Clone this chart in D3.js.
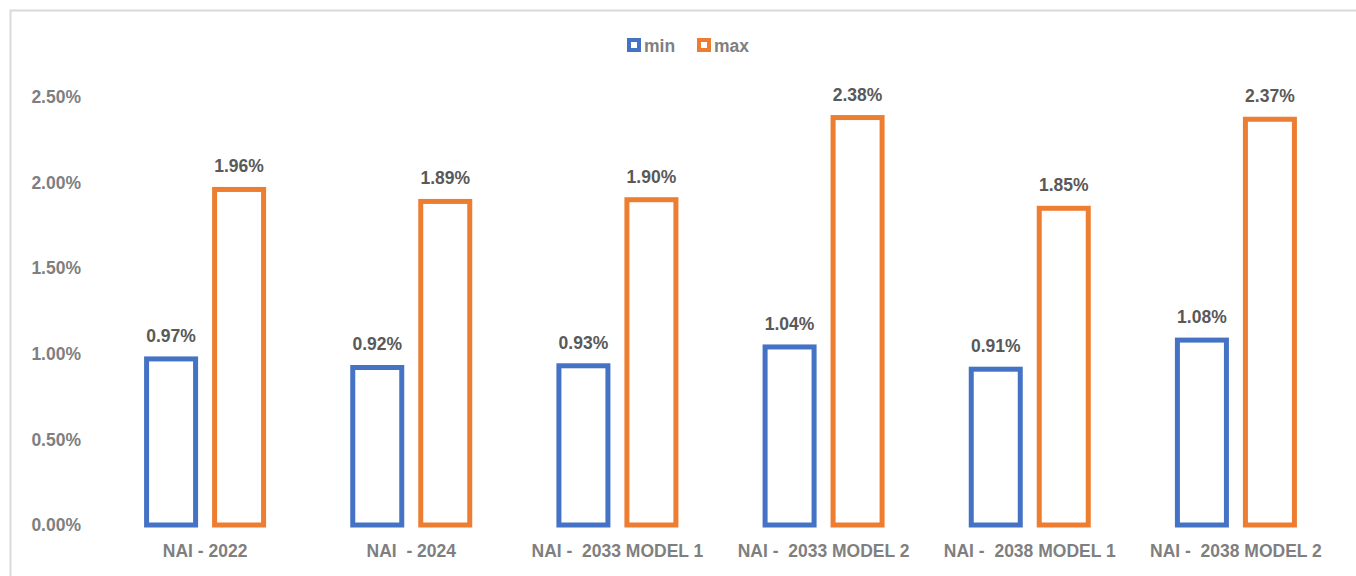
<!DOCTYPE html>
<html><head><meta charset="utf-8">
<script src="https://cdn.jsdelivr.net/npm/d3@7"></script>
<style>body{margin:0;background:#fff;} svg{display:block;} text{white-space:pre;}</style>
</head><body>
<svg id="c" width="1356" height="576"></svg>
<script>
const categories = ["NAI - 2022","NAI  - 2024","NAI -  2033 MODEL 1","NAI -  2033 MODEL 2","NAI -  2038 MODEL 1","NAI -  2038 MODEL 2"];
const minValues = [0.0097,0.0092,0.0093,0.0104,0.0091,0.0108];
const maxValues = [0.0196,0.0189,0.0190,0.0238,0.0185,0.0237];
const seriesNames = ["min","max"];
const yTicks = [0,0.005,0.01,0.015,0.02,0.025];
const colors = ["#4472C4","#ED7D31"];

const svg = d3.select("#c");
const font = "'Liberation Sans', Arial, sans-serif";
const fs = 17.5;
svg.append("rect").attr("x",10.5).attr("y",10.5).attr("width",1400).attr("height",700)
  .attr("fill","#fff").attr("stroke","#d9d9d9").attr("stroke-width",2);

const x0 = d3.scaleBand().domain(categories).range([102,1339]);
const y = d3.scaleLinear().domain([0,0.025]).range([525,97]);

const axis = svg.append("g").attr("transform","translate(81,0)")
  .call(d3.axisLeft(y).tickValues(yTicks).tickFormat(d3.format(".2%")).tickSize(0).tickPadding(0));
axis.select(".domain").remove();
axis.selectAll("text").attr("font-family",font).attr("font-size",fs).attr("font-weight","bold").attr("fill","#7f7f7f");

const xa = svg.append("g").attr("transform","translate(0,540)")
  .call(d3.axisBottom(x0).tickSize(0).tickPadding(0));
xa.select(".domain").remove();
xa.selectAll("text").attr("font-family",font).attr("font-size",fs).attr("font-weight","bold").attr("fill","#7f7f7f").attr("dy","0.75em").attr("y",4)
  .attr("xml:space","preserve");

const data = categories.map((c,i)=>({c, vals:[minValues[i],maxValues[i]]}));
const bw = 49, gap = 19;
data.forEach(d=>{
  const cx = x0(d.c) + x0.bandwidth()/2;
  d.vals.forEach((v,j)=>{
    const bx = j===0 ? cx - gap/2 - bw : cx + gap/2;
    svg.append("rect").attr("x",bx).attr("y",y(v)).attr("width",bw).attr("height",y(0)-y(v))
      .attr("fill","#fff").attr("stroke",colors[j]).attr("stroke-width",5);
    svg.append("text").attr("x",bx+bw/2).attr("y",y(v)-17).attr("text-anchor","middle")
      .attr("font-family",font).attr("font-size",fs).attr("font-weight","bold").attr("fill","#595959")
      .text(d3.format(".2%")(v));
  });
});

const legendX = [627,697];
seriesNames.forEach((s,i)=>{
  svg.append("rect").attr("x",legendX[i]+2).attr("y",40).attr("width",10).attr("height",10)
    .attr("fill","#fff").attr("stroke",colors[i]).attr("stroke-width",4);
  svg.append("text").attr("x",legendX[i]+17).attr("y",52).attr("font-family",font).attr("font-size",fs)
    .attr("font-weight","bold").attr("fill","#7f7f7f").text(s);
});
</script>
</body></html>
